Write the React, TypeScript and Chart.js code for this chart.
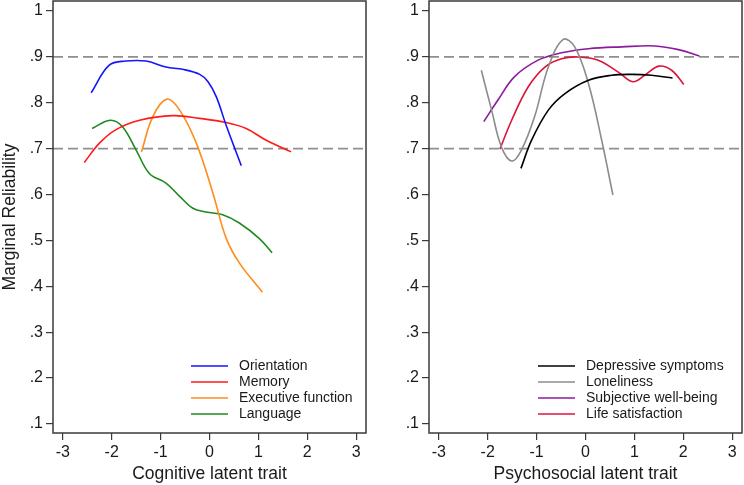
import React, { useEffect, useRef } from 'react';
import { Chart, registerables } from 'chart.js';

Chart.register(...registerables);

const FONT = "'Liberation Sans', Arial, Helvetica, sans-serif";
const INK = '#1a1a1a';
const AXIS = '#3a3a3a';

const xTicks = [-3, -2, -1, 0, 1, 2, 3];
const yTicks = [0.1, 0.2, 0.3, 0.4, 0.5, 0.6, 0.7, 0.8, 0.9, 1.0];
const refLevels = [0.7, 0.9];
const X_MIN = -3.2;
const X_MAX = 3.2;

// Cognitive domains
const orientationX = [-2.42, -2.05, -1.71, -1.3, -0.89, -0.55, -0.2, -0.03, 0.14, 0.34, 0.65];
const orientationY = [0.822, 0.882, 0.891, 0.891, 0.878, 0.873, 0.862, 0.846, 0.813, 0.751, 0.663];

const memoryX = [-2.56, -2.25, -1.92, -1.43, -0.75, -0.2, 0.34, 0.75, 1.15, 1.67];
const memoryY = [0.67, 0.712, 0.741, 0.762, 0.772, 0.766, 0.757, 0.744, 0.719, 0.693];

const executiveX = [-1.39, -1.16, -0.87, -0.61, -0.27, 0.07, 0.34, 0.61, 1.08];
const executiveY = [0.693, 0.77, 0.808, 0.784, 0.712, 0.603, 0.505, 0.451, 0.387];

const languageX = [-2.4, -2.03, -1.78, -1.5, -1.23, -0.89, -0.61, -0.34, -0.07, 0.27, 0.61, 1.02, 1.28];
const languageY = [0.744, 0.762, 0.748, 0.697, 0.646, 0.625, 0.596, 0.57, 0.562, 0.556, 0.538, 0.504, 0.473];

// Psychosocial domains
const depressiveX = [-1.32, -1.1, -0.76, -0.42, 0.06, 0.53, 0.94, 1.35, 1.78];
const depressiveY = [0.657, 0.719, 0.784, 0.82, 0.849, 0.86, 0.862, 0.86, 0.854];

const lonelinessX = [-2.13, -1.92, -1.72, -1.51, -1.31, -1.04, -0.76, -0.46, -0.22, 0.06, 0.33, 0.56];
const lonelinessY = [0.871, 0.784, 0.704, 0.673, 0.697, 0.77, 0.878, 0.938, 0.922, 0.842, 0.719, 0.599];

const wellbeingX = [-2.08, -1.79, -1.45, -0.97, -0.49, 0.06, 0.74, 1.42, 1.9, 2.33];
const wellbeingY = [0.759, 0.806, 0.857, 0.893, 0.909, 0.918, 0.922, 0.924, 0.916, 0.902];

const lifeSatX = [-1.75, -1.51, -1.17, -0.83, -0.49, -0.15, 0.26, 0.67, 0.97, 1.21, 1.5, 1.76, 2.01];
const lifeSatY = [0.699, 0.762, 0.835, 0.878, 0.896, 0.9, 0.893, 0.867, 0.846, 0.86, 0.88, 0.871, 0.84];

type Series = { label: string; xs: number[]; ys: number[]; color: string };

const cognitiveSeries: Series[] = [
  { label: 'Orientation', xs: orientationX, ys: orientationY, color: '#1414ff' },
  { label: 'Memory', xs: memoryX, ys: memoryY, color: '#ff1a1a' },
  { label: 'Executive function', xs: executiveX, ys: executiveY, color: '#ff8c1a' },
  { label: 'Language', xs: languageX, ys: languageY, color: '#1f8a1f' },
];

const psychosocialSeries: Series[] = [
  { label: 'Depressive symptoms', xs: depressiveX, ys: depressiveY, color: '#000000' },
  { label: 'Loneliness', xs: lonelinessX, ys: lonelinessY, color: '#8c8c8c' },
  { label: 'Subjective well-being', xs: wellbeingX, ys: wellbeingY, color: '#8b1a9c' },
  { label: 'Life satisfaction', xs: lifeSatX, ys: lifeSatY, color: '#dc143c' },
];

// Box around the plot area
const framePlugin = {
  id: 'frame',
  afterDatasetsDraw(chart: any) {
    const { ctx, chartArea } = chart;
    ctx.save();
    ctx.strokeStyle = AXIS;
    ctx.lineWidth = 1.5;
    ctx.strokeRect(chartArea.left, chartArea.top, chartArea.right - chartArea.left, chartArea.bottom - chartArea.top);
    ctx.restore();
  },
};

// Legend drawn inside the lower right of the plot area
const insetLegendPlugin = {
  id: 'insetLegend',
  afterDatasetsDraw(chart: any, _args: any, opts: any) {
    const { ctx, chartArea } = chart;
    const items = chart.data.datasets.filter((d: any) => d.inLegend);
    const rowGap = 16;
    const lineStart = chartArea.left + opts.offsetX;
    const lineLen = 37;
    const textX = lineStart + lineLen + 11;
    const lastY = chartArea.bottom - 19;
    ctx.save();
    ctx.font = `14px ${FONT}`;
    ctx.textBaseline = 'middle';
    ctx.textAlign = 'left';
    items.forEach((d: any, i: number) => {
      const y = lastY - (items.length - 1 - i) * rowGap;
      ctx.strokeStyle = d.borderColor;
      ctx.lineWidth = 1.6;
      ctx.beginPath();
      ctx.moveTo(lineStart, y);
      ctx.lineTo(lineStart + lineLen, y);
      ctx.stroke();
      ctx.fillStyle = INK;
      ctx.fillText(d.label, textX, y + 0.5);
    });
    ctx.restore();
  },
};

function buildChart(
  canvas: HTMLCanvasElement,
  series: Series[],
  xTitle: string,
  yTitle: string | null,
  yAxisWidth: number,
  padRight: number,
  legendOffsetX: number
) {
  const curves = series.map((s) => ({
    label: s.label,
    inLegend: true,
    data: s.xs.map((x, i) => ({ x, y: s.ys[i] })),
    borderColor: s.color,
    backgroundColor: s.color,
    borderWidth: 1.6,
    pointRadius: 0,
    tension: 0.38,
    fill: false,
  }));
  const refs = refLevels.map((lv) => ({
    label: '',
    inLegend: false,
    data: [
      { x: X_MIN, y: lv },
      { x: X_MAX, y: lv },
    ],
    borderColor: '#8f8f8f',
    borderWidth: 1.7,
    borderDash: [10, 5],
    pointRadius: 0,
    tension: 0,
    fill: false,
  }));

  return new Chart(canvas, {
    type: 'line',
    data: { datasets: [...curves, ...refs] as any },
    plugins: [framePlugin, insetLegendPlugin],
    options: {
      animation: false,
      responsive: false,
      events: [],
      layout: { padding: { top: 1, right: padRight, bottom: 0, left: 0 } },
      plugins: {
        legend: { display: false },
        tooltip: { enabled: false },
        insetLegend: { offsetX: legendOffsetX },
      } as any,
      scales: {
        x: {
          type: 'linear',
          min: X_MIN,
          max: X_MAX,
          afterBuildTicks: (s: any) => {
            s.ticks = xTicks.map((v) => ({ value: v }));
          },
          afterFit: (s: any) => {
            s.height = 52;
            s.paddingLeft = 0;
            s.paddingRight = 0;
          },
          ticks: {
            autoSkip: false,
            maxRotation: 0,
            padding: 3,
            color: INK,
            font: { family: FONT, size: 16 },
            callback: (v: any) => String(v),
          },
          grid: { drawOnChartArea: false, drawTicks: true, tickLength: 7, color: AXIS, lineWidth: 1.2 },
          border: { display: false },
          title: {
            display: true,
            text: xTitle,
            color: INK,
            font: { family: FONT, size: 17.5 },
            padding: { top: 0, bottom: 0 },
          },
        },
        y: {
          type: 'linear',
          min: 0.08,
          max: 1.022,
          afterBuildTicks: (s: any) => {
            s.ticks = yTicks.map((v) => ({ value: v }));
          },
          afterFit: (s: any) => {
            s.width = yAxisWidth;
            s.paddingTop = 0;
            s.paddingBottom = 0;
          },
          ticks: {
            autoSkip: false,
            padding: 3,
            color: INK,
            font: { family: FONT, size: 16 },
            callback: (v: any) => (Math.abs(v - 1) < 1e-9 ? '1' : '.' + Math.round(v * 10)),
          },
          grid: { drawOnChartArea: false, drawTicks: true, tickLength: 7, color: AXIS, lineWidth: 1.2 },
          border: { display: false },
          title: {
            display: !!yTitle,
            text: yTitle || '',
            color: INK,
            font: { family: FONT, size: 17.5 },
            padding: { top: 0, bottom: 0 },
          },
        },
      },
    } as any,
  });
}

export default function App() {
  const leftRef = useRef<HTMLCanvasElement>(null);
  const rightRef = useRef<HTMLCanvasElement>(null);

  useEffect(() => {
    const left = buildChart(leftRef.current!, cognitiveSeries, 'Cognitive latent trait', 'Marginal Reliability', 53, 6, 138);
    const right = buildChart(rightRef.current!, psychosocialSeries, 'Psychosocial latent trait', null, 57, 2, 109);
    return () => {
      left.destroy();
      right.destroy();
    };
  }, []);

  return (
    <div style={{ position: 'absolute', left: 0, top: 0, width: 744, height: 485, background: '#ffffff' }}>
      <canvas ref={leftRef} width={372} height={485} style={{ position: 'absolute', left: 0, top: 0 }} />
      <canvas ref={rightRef} width={372} height={485} style={{ position: 'absolute', left: 372, top: 0 }} />
    </div>
  );
}
